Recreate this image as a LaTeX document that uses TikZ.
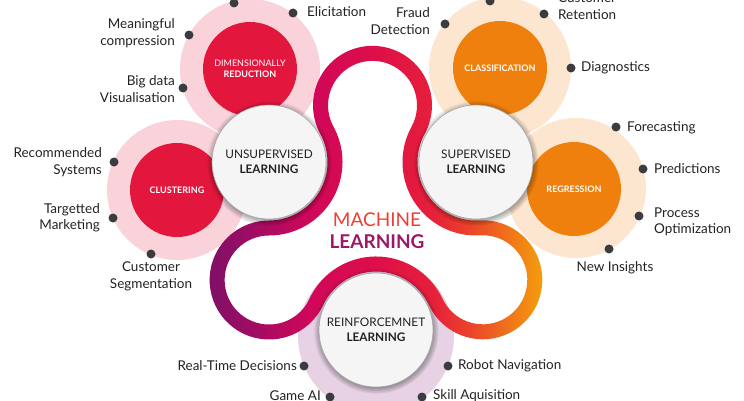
\documentclass[tikz,border=0pt]{standalone}
\usepackage{fontspec}
\setmainfont{Lato}
\usetikzlibrary{shadows,calc}
\definecolor{pinkring}{HTML}{F9D2DA}
\definecolor{redc}{HTML}{E3173E}
\definecolor{peach}{HTML}{FDE6D0}
\definecolor{orangec}{HTML}{F0800E}
\definecolor{lavender}{HTML}{E6D2E4}
\definecolor{wfill}{HTML}{F5F5F5}
\definecolor{wedge}{HTML}{A8A8A8}
\definecolor{dotc}{HTML}{3C3C40}
\definecolor{tcol}{HTML}{222222}
\definecolor{mlA}{HTML}{EC4036}
\definecolor{mlB}{HTML}{9C1766}
\definecolor{rp1}{HTML}{7A1068}
\definecolor{rp2}{HTML}{A30C62}
\definecolor{rp3}{HTML}{D0075A}
\definecolor{rp4}{HTML}{DC0F4A}
\definecolor{rp5}{HTML}{E7203A}
\definecolor{rp6}{HTML}{EC4A27}
\definecolor{rp7}{HTML}{F4A00C}
\pgfdeclarehorizontalshading{ribbonshade}{100bp}{color(0bp)=(rp1); color(25bp)=(rp1); color(33bp)=(rp2); color(41bp)=(rp3); color(50bp)=(rp4); color(59bp)=(rp5); color(65bp)=(rp6); color(75bp)=(rp7); color(100bp)=(rp7)}
\begin{document}
\begin{tikzpicture}[x=1pt,y=1pt,
  ring/.style={circle,inner sep=0pt,minimum size=#1},
  core/.style={circle,inner sep=0pt,minimum size=94pt,text=white,align=center,font=\fontsize{9}{11.5}\selectfont},
  main/.style={circle,inner sep=0pt,minimum size=114pt,fill=wfill,draw=wedge,line width=0.6pt,align=center,text=tcol,font=\fontsize{11.8}{15}\selectfont,
    circular drop shadow={shadow xshift=0pt,shadow yshift=-1pt,shadow scale=1.1,fill=black,opacity=0.45}},
  dot/.style={circle,fill=dotc,inner sep=0pt,minimum size=9pt},
  lab/.style={text=tcol,font=\fontsize{13.5}{16.5}\selectfont,inner sep=0pt}]
\useasboundingbox (0,0) rectangle (744,400);
\clip (0,0) rectangle (744,400);
% centres
\coordinate (U) at (269,238);
\coordinate (S) at (476,238);
\coordinate (F) at (376,70);
% outer rings
\node[ring=140pt,fill=pinkring] (DRring) at (250,331) {};
\node[ring=140pt,fill=pinkring] (CLring) at (177,210) {};
\node[ring=142pt,fill=peach] (CAring) at (500,332) {};
\node[ring=140pt,fill=peach] (RGring) at (576,212) {};
\node[ring=156pt,fill=lavender] (RLring) at (376,64) {};
% coloured cores
\node[core,fill=redc] (DR) at (250,331) {DIMENSIONALLY\\\textbf{REDUCTION}};
\node[core,fill=redc] (CL) at (177,210) {\textbf{CLUSTERING}};
\node[core,fill=orangec] (CA) at (500,332) {\textbf{CLASSIFICATION}};
\node[core,fill=orangec] (RG) at (574,211) {\textbf{REGRESSION}};
% ribbon
\shade[shading=ribbonshade,even odd rule]
  ($(U)+(-89.94:58.5)$) arc[start angle=-89.94,end angle=28.70,radius=58.5]
  arc[start angle=208.70,end angle=-28.70,radius=59.5]
  arc[start angle=151.30,end angle=273.30,radius=58.5]
  arc[start angle=93.30,end angle=-154.82,radius=59.5]
  arc[start angle=25.18,end angle=154.93,radius=58.5]
  arc[start angle=-25.07,end angle=-269.94,radius=59.5] -- cycle
  ($(U)+(28.70:73.5)$) arc[start angle=28.70,end angle=-89.94,radius=73.5]
  arc[start angle=-269.94,end angle=-25.07,radius=44.5]
  arc[start angle=154.93,end angle=25.18,radius=73.5]
  arc[start angle=-154.82,end angle=93.30,radius=44.5]
  arc[start angle=273.30,end angle=151.30,radius=73.5]
  arc[start angle=-28.70,end angle=208.70,radius=44.5] -- cycle;
% main white circles
\node[main] (UL) at (U) {UNSUPERVISED\\\textbf{LEARNING}};
\node[main] (SL) at (S) {SUPERVISED\\\textbf{LEARNING}};
\node[main] (RL) at (F) {REINFORCEMNET\\\textbf{LEARNING}};
% centre title
\node[inner sep=0pt,align=center,font=\fontsize{19}{22}\selectfont] (ML) at (377,169) {\textcolor{mlA}{MACHINE}\\\textcolor{mlB}{\textbf{LEARNING}}};
% dots
\node[dot] (d1) at (234,397) {};
\node[dot] (d2) at (293,387) {};
\node[dot] (d3) at (189,365) {};
\node[dot] (d4) at (183,312) {};
\node[dot] (d5) at (114,238) {};
\node[dot] (d6) at (113,182) {};
\node[dot] (d7) at (151,146) {};
\node[dot] (d8) at (490,399) {};
\node[dot] (d9) at (445,376) {};
\node[dot] (d10) at (544,386) {};
\node[dot] (d11) at (571,332) {};
\node[dot] (d12) at (616,273) {};
\node[dot] (d13) at (643,231) {};
\node[dot] (d14) at (639,184) {};
\node[dot] (d15) at (609,151) {};
\node[dot] (d16) at (304,34) {};
\node[dot] (d17) at (330,3) {};
\node[dot] (d18) at (448,34) {};
\node[dot] (d19) at (422,3) {};
% labels
\node[lab,anchor=west] (l2) at (307,388) {Elicitation};
\node[lab,anchor=east,align=right] (l3) at (175,367) {Meaningful\\compression};
\node[lab,anchor=east,align=right] (l4) at (175,311) {Big data\\Visualisation};
\node[lab,anchor=east,align=right] (l5) at (102,238) {Recommended\\Systems};
\node[lab,anchor=east,align=right] (l6) at (100,182) {Targetted\\Marketing};
\node[lab,align=center] (l7) at (151,123.5) {Customer\\Segmentation};
\node[lab,anchor=east,align=right] (l9) at (430,379) {Fraud\\Detection};
\node[lab,anchor=west,align=left] (l10) at (558,394) {Customer\\Retention};
\node[lab,anchor=west] (l11) at (581,332) {Diagnostics};
\node[lab,anchor=west] (l12) at (627,272) {Forecasting};
\node[lab,anchor=west] (l13) at (654,231) {Predictions};
\node[lab,anchor=west,align=left] (l14) at (654,178) {Process\\Optimization};
\node[lab] (l15) at (615,132) {New Insights};
\node[lab,anchor=east] (l16) at (297,34) {Real-Time Decisions};
\node[lab,anchor=east] (l17) at (321,4) {Game AI};
\node[lab,anchor=west] (l18) at (458,34) {Robot Navigation};
\node[lab,anchor=west] (l19) at (433,4) {Skill Aquisition};
\end{tikzpicture}
\end{document}
